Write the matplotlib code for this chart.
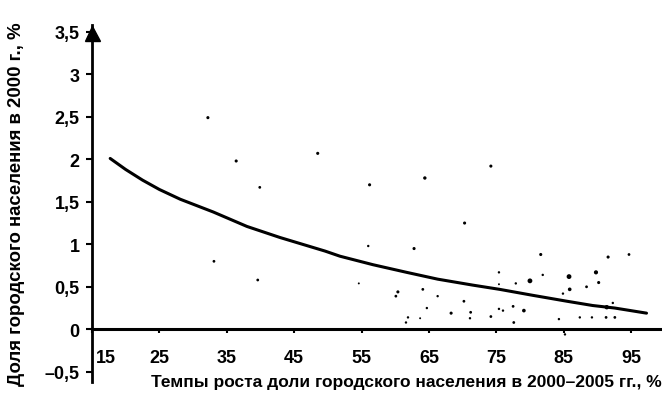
import matplotlib
matplotlib.use("Agg")
import matplotlib.pyplot as plt
import matplotlib.transforms as mtransforms

# Scatter points (growth rate %, urban share %)
scatter_x = [32.2, 36.4, 39.9, 48.5, 33.1, 39.6, 56.2, 64.4, 74.2,
             56.0, 62.8, 70.3, 54.6, 60.4, 60.1, 64.1, 66.3, 64.7, 61.9, 61.6, 63.7,
             68.3, 70.2, 71.2, 71.1, 74.2, 75.4, 75.4, 75.4,
             81.6, 81.9, 80.0, 77.9, 85.8, 85.9, 84.9, 88.4, 89.8, 90.2, 91.6, 94.7,
             77.5, 79.1, 76.0, 77.6, 84.3, 87.4, 89.2, 91.4, 91.3, 92.6, 92.3, 85.2]
scatter_y = [2.49, 1.98, 1.67, 2.07, 0.80, 0.58, 1.70, 1.78, 1.92,
             0.98, 0.95, 1.25, 0.54, 0.44, 0.39, 0.47, 0.39, 0.25, 0.14, 0.08, 0.13,
             0.19, 0.33, 0.20, 0.13, 0.15, 0.67, 0.24, 0.53,
             0.88, 0.64, 0.57, 0.54, 0.62, 0.47, 0.42, 0.50, 0.67, 0.55, 0.85, 0.88,
             0.27, 0.22, 0.22, 0.08, 0.12, 0.14, 0.14, 0.26, 0.14, 0.14, 0.31, -0.06]
scatter_size = [5, 5, 4, 5, 4, 4, 5, 6, 5,
                3, 5, 5, 2, 5, 4, 4, 3, 3, 3, 3, 2,
                5, 4, 4, 3, 4, 3, 3, 2,
                5, 3, 12, 3, 12, 7, 3, 4, 9, 5, 5, 4,
                4, 7, 3, 4, 3, 3, 3, 10, 4, 4, 3, 3]

# Trend line
trend_x = [17.7, 20.0, 22.5, 25.0, 28.1, 33.0, 38.0, 42.9, 49.6, 51.8, 56.7,
           61.7, 66.3, 71.5, 75.5, 80.4, 85.5, 89.3, 92.6, 97.3]
trend_y = [2.01, 1.88, 1.755, 1.645, 1.53, 1.38, 1.21, 1.08, 0.92, 0.86, 0.76,
           0.67, 0.59, 0.52, 0.47, 0.40, 0.33, 0.28, 0.25, 0.19]

x_ticks = [15, 25, 35, 45, 55, 65, 75, 85, 95]
y_ticks = [-0.5, 0, 0.5, 1, 1.5, 2, 2.5, 3, 3.5]
y_tick_labels = ["–0,5", "0", "0,5", "1", "1,5", "2", "2,5", "3", "3,5"]

x_label = "Темпы роста доли городского населения в 2000–2005 гг., %"
y_label = "Доля городского населения в 2000 г., %"

plt.rcParams['font.family'] = ['Liberation Sans', 'DejaVu Sans']
plt.rcParams['font.weight'] = 'bold'

fig = plt.figure(figsize=(6.62, 4.02), dpi=100)
ax = fig.add_axes([92/662, 19/402, 1 - 92/662, (383-26)/402])
ax.set_xlim(15, 99.6)
ax.set_ylim(-0.62, 3.58)

ax.plot(trend_x, trend_y, color='black', lw=2.2, solid_capstyle='round', zorder=3)
ax.scatter(scatter_x, scatter_y, s=scatter_size, color='black', lw=0, zorder=4)

for s in ['top', 'right']:
    ax.spines[s].set_visible(False)
ax.spines['left'].set_linewidth(2.0)
ax.spines['bottom'].set_position(('data', 0))
ax.spines['bottom'].set_linewidth(2.2)

ax.set_xticks(x_ticks)
ax.set_xticklabels([str(v) for v in x_ticks], fontsize=13, fontweight='bold')
ax.set_yticks(y_ticks)
ax.set_yticklabels(y_tick_labels, fontsize=13, fontweight='bold')
ax.tick_params(axis='x', direction='out', length=3, width=1.5, pad=11)
ax.tick_params(axis='y', direction='out', length=4, width=1.5, pad=5)

# shift the first x label right off the axis
lab0 = ax.get_xticklabels()[0]
lab0.set_transform(lab0.get_transform() + mtransforms.ScaledTranslation(14/100, 0, fig.dpi_scale_trans))

# arrow head at top of y axis
arrow_trans = ax.transAxes + mtransforms.ScaledTranslation(0, -7.5/100, fig.dpi_scale_trans)
ax.plot([0], [1], marker='^', markersize=10.8, color='black', transform=arrow_trans,
        clip_on=False, zorder=5)

fig.text(0.999, (402-383)/402, x_label, ha='right', va='center', fontsize=12.5, fontweight='bold')
fig.text(17/662, 198/402, y_label, ha='center', va='center', rotation=90, fontsize=13.4, fontweight='bold')

fig.savefig('out.png', dpi=100)
